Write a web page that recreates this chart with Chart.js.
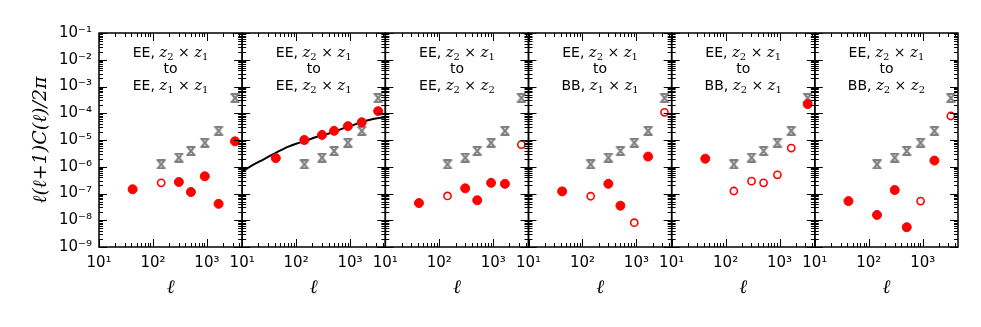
<!DOCTYPE html>
<html><head><meta charset="utf-8">
<script src="https://cdn.jsdelivr.net/npm/chart.js@4.4.1/dist/chart.umd.min.js"></script>
<style>
html,body{margin:0;padding:0;background:#fff;}
#wrap{position:relative;width:981px;height:327px;overflow:hidden;background:#fff;}
#wrap canvas{position:absolute;left:0;top:0;}
</style></head><body><div id="wrap"></div>
<script>
// ---------- data ----------
const ellBins = [42, 142, 302, 505, 912, 1645, 3317];
const noiseEll = [142, 302, 505, 912, 1645, 3317];
const noiseVals = [1.23e-6, 2.2e-6, 3.9e-6, 7.9e-6, 2.2e-5, 3.7e-4];
const theoryEll = [10, 15, 25, 43, 70, 100, 145, 250, 420, 700, 1000, 1750, 2800, 4500];
const theoryVals = [6.5e-7, 1.1e-6, 1.9e-6, 3.4e-6, 5.5e-6, 7.2e-6, 9.1e-6, 1.35e-5, 1.8e-5, 2.6e-5, 3.3e-5, 4.9e-5, 6.2e-5, 7.0e-5];
const panel1Vals = [1.44e-7, 2.5e-7, 2.7e-7, 1.14e-7, 4.4e-7, 4.1e-8, 8.9e-6];
const panel1Neg  = [0, 1, 0, 0, 0, 0, 0];
const panel2Vals = [2.1e-6, 1.0e-5, 1.55e-5, 2.2e-5, 3.3e-5, 4.6e-5, 1.2e-4];
const panel2Neg  = [0, 0, 0, 0, 0, 0, 0];
const panel3Vals = [4.4e-8, 8.1e-8, 1.56e-7, 5.6e-8, 2.5e-7, 2.3e-7, 6.7e-6];
const panel3Neg  = [0, 1, 0, 0, 0, 0, 1];
const panel4Vals = [1.2e-7, 7.9e-8, 2.3e-7, 3.5e-8, 8.1e-9, 2.4e-6, 1.08e-4];
const panel4Neg  = [0, 1, 0, 0, 1, 0, 1];
const panel5Vals = [2.0e-6, 1.24e-7, 2.9e-7, 2.5e-7, 5.0e-7, 5.0e-6, 2.2e-4];
const panel5Neg  = [0, 1, 1, 1, 1, 1, 0];
const panel6Vals = [5.2e-8, 1.58e-8, 1.35e-7, 5.5e-9, 5.2e-8, 1.7e-6, 7.9e-5];
const panel6Neg  = [0, 0, 0, 0, 1, 0, 1];
const sourceBand = 'EE', sourceZa = '2', sourceZb = '1';
const targetBand = ['EE', 'EE', 'EE', 'BB', 'BB', 'BB'];
const targetZa   = ['1', '2', '2', '1', '2', '2'];
const targetZb   = ['1', '1', '2', '1', '1', '2'];
const xMin = 10, xMax = 4500, yMin = 1e-9, yMax = 1e-1;
const yTitle = 'ℓ(ℓ+1)C(ℓ)/2π';
const xTitle = 'ℓ';

const panelVals = [panel1Vals, panel2Vals, panel3Vals, panel4Vals, panel5Vals, panel6Vals];
const panelNeg = [panel1Neg, panel2Neg, panel3Neg, panel4Neg, panel5Neg, panel6Neg];

// ---------- layout ----------
const W = 981, H = 327;
const X0 = 99, X1 = 958, TOP = 33, BOT = 247;
const PW = (X1 - X0) / 6;

const SUP = {'-':'⁻','0':'⁰','1':'¹','2':'²','3':'³','4':'⁴','5':'⁵','6':'⁶','7':'⁷','8':'⁸','9':'⁹'};
function decadeLabel(v) {
  const lg = Math.log10(v), e = Math.round(lg);
  if (Math.abs(lg - e) > 1e-6) return '';
  return '10' + String(e).split('').map(c => SUP[c]).join('');
}

function makeHourglass() {
  const c = document.createElement('canvas'); c.width = 12; c.height = 10;
  const g = c.getContext('2d');
  g.strokeStyle = '#7f7f7f'; g.lineWidth = 2;
  g.beginPath();
  g.moveTo(1.5, 1); g.lineTo(10.5, 1);
  g.moveTo(1.5, 9); g.lineTo(10.5, 9);
  g.moveTo(3, 1.5); g.lineTo(9, 8.5);
  g.moveTo(9, 1.5); g.lineTo(3, 8.5);
  g.stroke();
  return c;
}
const hourglass = makeHourglass();

const SANS = '"DejaVu Sans", sans-serif';
const SERIF = '"DejaVu Serif", serif';

function richLine(band, za, zb) {
  return [
    {t: band + ', ', font: '14px ' + SANS},
    {t: 'z', font: 'italic 15px ' + SERIF},
    {t: za, font: '10px ' + SERIF, dy: 3},
    {t: ' × ', font: '14px ' + SANS},
    {t: 'z', font: 'italic 15px ' + SERIF},
    {t: zb, font: '10px ' + SERIF, dy: 3}
  ];
}
function drawRich(ctx, segs, cx, y) {
  let total = 0;
  segs.forEach(s => { ctx.font = s.font; s.w = ctx.measureText(s.t).width; total += s.w; });
  let x = cx - total / 2;
  segs.forEach(s => { ctx.font = s.font; ctx.fillText(s.t, x, y + (s.dy || 0)); x += s.w; });
}

function framePlugin(i) {
  return {
    id: 'frame' + i,
    afterDraw(chart) {
      const ctx = chart.ctx, a = chart.chartArea;
      const xs = chart.scales.x, ys = chart.scales.y;
      ctx.save();
      ctx.strokeStyle = '#000';
      ctx.lineWidth = 1;
      ctx.beginPath();
      for (let d = 1; d <= 4; d++) {
        for (let m = 1; m <= 9; m++) {
          const v = m * Math.pow(10, d);
          if (v < xMin || v > xMax) continue;
          const px = Math.round(xs.getPixelForValue(v)) + 0.5;
          const len = m === 1 ? 8 : 4;
          ctx.moveTo(px, a.bottom); ctx.lineTo(px, a.bottom - len);
          ctx.moveTo(px, a.top); ctx.lineTo(px, a.top + len);
        }
      }
      for (let d = -9; d <= -1; d++) {
        for (let m = 1; m <= 9; m++) {
          const v = m * Math.pow(10, d);
          if (v < yMin * 0.999 || v > yMax * 1.001) continue;
          const py = Math.round(ys.getPixelForValue(v)) + 0.5;
          const len = m === 1 ? 8 : 4;
          ctx.moveTo(a.left, py); ctx.lineTo(a.left + len, py);
          ctx.moveTo(a.right, py); ctx.lineTo(a.right - len, py);
        }
      }
      ctx.stroke();
      ctx.lineWidth = 1.5;
      ctx.strokeRect(a.left, a.top, a.right - a.left, a.bottom - a.top);
      // annotation
      ctx.fillStyle = '#000';
      ctx.textBaseline = 'alphabetic';
      const cx = (a.left + a.right) / 2;
      drawRich(ctx, richLine(sourceBand, sourceZa, sourceZb), cx, a.top + 24);
      ctx.font = '14px ' + SANS; ctx.textAlign = 'center';
      ctx.fillText('to', cx, a.top + 40);
      ctx.textAlign = 'left';
      drawRich(ctx, richLine(targetBand[i], targetZa[i], targetZb[i]), cx, a.top + 57);
      ctx.restore();
    }
  };
}

const wrap = document.getElementById('wrap');
for (let i = 0; i < 6; i++) {
  const canvas = document.createElement('canvas');
  canvas.width = W; canvas.height = H;
  wrap.appendChild(canvas);
  const L = X0 + i * PW, R = X0 + (i + 1) * PW;
  const vals = panelVals[i], neg = panelNeg[i];
  const filled = [], open = [];
  ellBins.forEach((l, k) => { (neg[k] ? open : filled).push({x: l, y: vals[k]}); });
  const datasets = [{
    label: 'noise', data: noiseEll.map((l, k) => ({x: l, y: noiseVals[k]})),
    pointStyle: hourglass, pointRadius: 5, order: 3
  }];
  if (i === 1) {
    datasets.push({
      label: 'theory', data: theoryEll.map((l, k) => ({x: l, y: theoryVals[k]})),
      showLine: true, borderColor: '#000', borderWidth: 2, pointRadius: 0,
      cubicInterpolationMode: 'monotone', order: 2
    });
  }
  datasets.push({label: 'positive', data: filled, backgroundColor: '#ff0000', borderColor: '#ff0000',
    pointRadius: 4.5, borderWidth: 1, order: 1});
  datasets.push({label: 'negative', data: open, backgroundColor: 'rgba(255,255,255,0)', borderColor: '#ff0000',
    pointRadius: 3.6, borderWidth: 1.6, order: 0});

  new Chart(canvas, {
    type: 'scatter',
    data: {datasets},
    options: {
      responsive: false, animation: false, events: [],
      layout: {padding: {left: i === 0 ? 0 : L, right: W - R, top: TOP, bottom: 0}},
      plugins: {legend: {display: false}, tooltip: {enabled: false}},
      scales: {
        x: {
          type: 'logarithmic', min: xMin, max: xMax, position: 'bottom',
          grid: {display: false, drawTicks: false}, border: {display: false},
          ticks: {autoSkip: false, maxRotation: 0, minRotation: 0, padding: 7, color: '#000',
                  font: {family: 'DejaVu Sans', size: 15}, callback: v => decadeLabel(v)},
          title: {display: true, text: xTitle, color: '#000',
                  font: {family: 'DejaVu Serif', style: 'italic', size: 19}, padding: {top: 0, bottom: 28}},
          afterFit: s => { s.height = H - BOT; }
        },
        y: {
          type: 'logarithmic', min: yMin, max: yMax, display: i === 0,
          grid: {display: false, drawTicks: false}, border: {display: false},
          ticks: {autoSkip: false, padding: 7, color: '#000',
                  font: {family: 'DejaVu Sans', size: 15}, callback: v => decadeLabel(v)},
          title: {display: true, text: yTitle, color: '#000',
                  font: {family: 'DejaVu Serif', style: 'italic', size: 19}, padding: {top: 30, bottom: 0}},
          afterFit: s => { s.width = (i === 0) ? X0 : 0; }
        }
      }
    },
    plugins: [framePlugin(i)]
  });
}
</script></body></html>
